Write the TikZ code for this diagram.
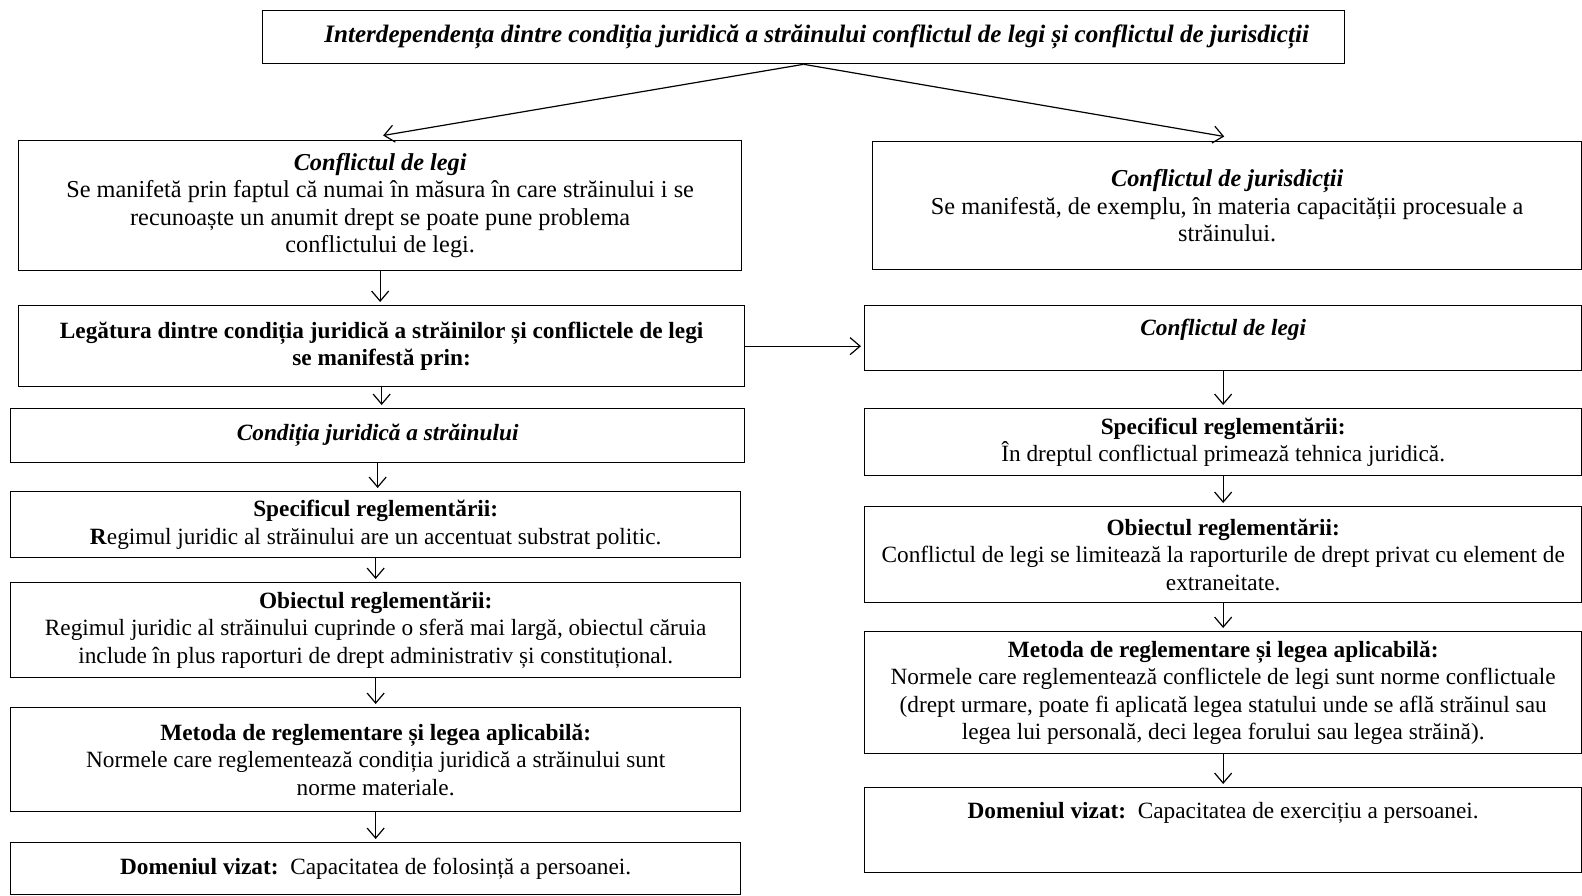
\documentclass[tikz,border=0pt]{standalone}
\usepackage{fontspec}
\setmainfont{Liberation Serif}
\usepackage{tikz}
\usetikzlibrary{arrows.meta,positioning,calc}

\begin{document}
\begin{tikzpicture}[
    x=1pt, y=-1pt,
    box/.style={rectangle, draw, line width=1.3pt, anchor=north west, align=center,
        inner xsep=4pt, inner ysep=6pt, font=\fontsize{23.3}{27.5}\selectfont},
    bigbox/.style={box, font=\fontsize{24.3}{27.5}\selectfont},
    topbox/.style={text height=#1},
    arrow/.style={-{Straight Barb[length=10pt,width=17pt]}, line width=1.2pt, shorten >=3pt}
]

% Frame of the page
\useasboundingbox (0,0) rectangle (1582,895);

% Title
\node[box, minimum width=1082pt, minimum height=53pt, font=\fontsize{25.1}{28}\selectfont] (title) at (262,10)
    {\hspace*{26pt}\textbf{\textit{Interdependența dintre condiția juridică a străinului conflictul de legi și conflictul de jurisdicții}}};

% Left column
\node[bigbox, minimum width=723pt, minimum height=130pt] (L1) at (18,140)
    {\textbf{\textit{Conflictul de legi}}\\
     Se manifetă prin faptul că numai în măsura în care străinului i se\\
     recunoaște un anumit drept se poate pune problema\\
     conflictului de legi.};
\node[box, minimum width=726pt, minimum height=81pt] (L2) at (18,305)
    {\textbf{Legătura dintre condiția juridică a străinilor și conflictele de legi}\\
     \textbf{se manifestă prin:}};
\node[box, minimum width=734pt, minimum height=54pt] (L3) at (10,408)
    {\textbf{\textit{Condiția juridică a străinului}}};
\node[box, minimum width=730pt, minimum height=66pt] (L4) at (10,491)
    {\textbf{Specificul reglementării:}\\
     \textbf{R}egimul juridic al străinului are un accentuat substrat politic.};
\node[box, minimum width=730pt, minimum height=95pt] (L5) at (10,582)
    {\textbf{Obiectul reglementării:}\\
     Regimul juridic al străinului cuprinde o sferă mai largă, obiectul căruia\\
     include în plus raporturi de drept administrativ și constituțional.};
\node[box, minimum width=730pt, minimum height=104pt] (L6) at (10,707)
    {\textbf{Metoda de reglementare și legea aplicabilă:}\\
     Normele care reglementează condiția juridică a străinului sunt\\
     norme materiale.};
\node[box, minimum width=730pt, minimum height=52pt] (L7) at (10,842)
    {\textbf{Domeniul vizat:}\ \ Capacitatea de folosință a persoanei.};

% Right column
\node[bigbox, minimum width=709pt, minimum height=128pt] (R1) at (872,141)
    {\textbf{\textit{Conflictul de jurisdicții}}\\
     Se manifestă, de exemplu, în materia capacității procesuale a\\
     străinului.};
\node[box, topbox=24pt, text depth=29pt, minimum width=717pt] (R2) at (864,305)
    {\textbf{\textit{Conflictul de legi}}};
\node[box, minimum width=717pt, minimum height=67pt] (R3) at (864,408)
    {\textbf{Specificul reglementării:}\\
     În dreptul conflictual primează tehnica juridică.};
\node[box, minimum width=717pt, minimum height=96pt] (R4) at (864,506)
    {\textbf{Obiectul reglementării:}\\
     Conflictul de legi se limitează la raporturile de drept privat cu element de\\
     extraneitate.};
\node[box, minimum width=717pt, minimum height=122pt] (R5) at (864,631)
    {\textbf{Metoda de reglementare și legea aplicabilă:}\\
     Normele care reglementează conflictele de legi sunt norme conflictuale\\
     (drept urmare, poate fi aplicată legea statului unde se află străinul sau\\
     legea lui personală, deci legea forului sau legea străină).};
\node[box, topbox=25pt, text depth=48pt, minimum width=717pt] (R6) at (864,787)
    {\textbf{Domeniul vizat:}\ \ Capacitatea de exercițiu a persoanei.};

% Arrows
\draw[arrow] (title.south) -- ([yshift=4pt]L1.north);
\draw[arrow] (title.south) -- ([yshift=4pt]R1.north);
\draw[arrow] (L1.south) -- (L1.south |- L2.north);
\draw[arrow] (L2.south) -- (L2.south |- L3.north);
\draw[arrow] (L3.south) -- (L3.south |- L4.north);
\draw[arrow] (L4.south) -- (L4.south |- L5.north);
\draw[arrow] (L5.south) -- (L5.south |- L6.north);
\draw[arrow] (L6.south) -- (L6.south |- L7.north);
\draw[arrow] (L2.east) -- (L2.east -| R2.west);
\draw[arrow] (R2.south) -- (R2.south |- R3.north);
\draw[arrow] (R3.south) -- (R3.south |- R4.north);
\draw[arrow] (R4.south) -- (R4.south |- R5.north);
\draw[arrow] (R5.south) -- (R5.south |- R6.north);

\end{tikzpicture}
\end{document}
